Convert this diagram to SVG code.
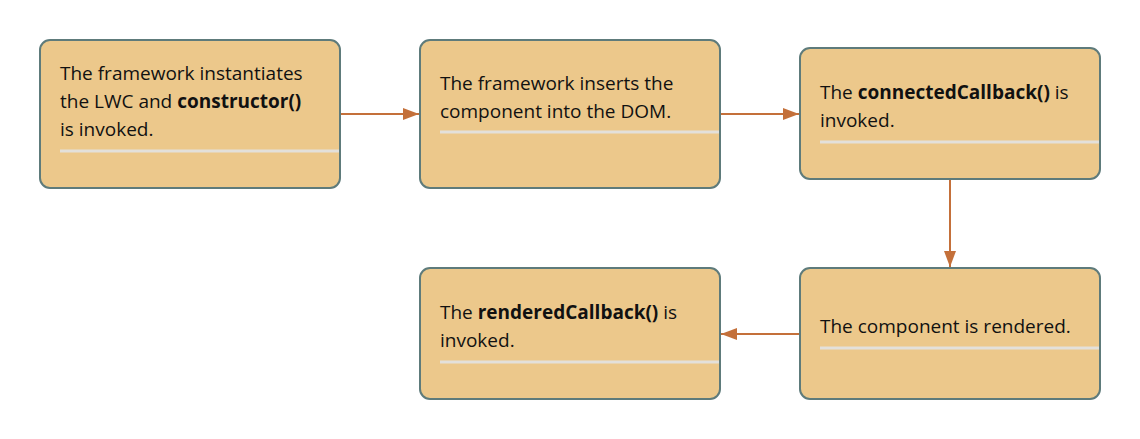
<svg xmlns="http://www.w3.org/2000/svg" width="1140" height="439" viewBox="0 0 1140 439">
<defs>
<marker id="ah" viewBox="0 0 16 12" refX="16" refY="6" markerWidth="16" markerHeight="12" markerUnits="userSpaceOnUse" orient="auto">
<path d="M0,0 L16,6 L0,12 Z" fill="#c4703a"/>
</marker>
<style>
.box{fill:#ecc88b;stroke:#5e7b7b;stroke-width:2}
.sep{stroke:#e3e0da;stroke-width:3}
.t{font-family:"Open Sans","Noto Sans",sans-serif;font-size:19px;fill:#111}
.b{font-weight:bold}
.c{stroke:#c4703a;stroke-width:2;fill:none}
</style>
</defs>
<rect width="1140" height="439" fill="#ffffff"/>
<g id="n1">
<rect class="box" x="40" y="40" width="300" height="148" rx="10"/>
<line class="sep" x1="60" y1="151" x2="339" y2="151"/>
<text class="t" x="60" y="80">The framework instantiates</text>
<text class="t" x="60" y="108">the LWC and <tspan class="b">constructor()</tspan></text>
<text class="t" x="60" y="136">is invoked.</text>
</g>
<g id="n2">
<rect class="box" x="420" y="40" width="300" height="148" rx="10"/>
<line class="sep" x1="440" y1="132" x2="719" y2="132"/>
<text class="t" x="440" y="90">The framework inserts the</text>
<text class="t" x="440" y="118">component into the DOM.</text>
</g>
<g id="n3">
<rect class="box" x="800" y="48" width="300" height="131" rx="10"/>
<line class="sep" x1="820" y1="142" x2="1099" y2="142"/>
<text class="t" x="820" y="99">The <tspan class="b">connectedCallback()</tspan> is</text>
<text class="t" x="820" y="127">invoked.</text>
</g>
<g id="n4">
<rect class="box" x="800" y="268" width="300" height="131" rx="10"/>
<line class="sep" x1="820" y1="348" x2="1099" y2="348"/>
<text class="t" x="820" y="333">The component is rendered.</text>
</g>
<g id="n5">
<rect class="box" x="420" y="268" width="300" height="131" rx="10"/>
<line class="sep" x1="440" y1="362" x2="719" y2="362"/>
<text class="t" x="440" y="319">The <tspan class="b">renderedCallback()</tspan> is</text>
<text class="t" x="440" y="347">invoked.</text>
</g>
<g id="connectors">
<path class="c" d="M341,114 L419,114" marker-end="url(#ah)"/>
<path class="c" d="M721,114 L799,114" marker-end="url(#ah)"/>
<path class="c" d="M950,180 L950,267" marker-end="url(#ah)"/>
<path class="c" d="M799,334 L721,334" marker-end="url(#ah)"/>
</g>
</svg>
